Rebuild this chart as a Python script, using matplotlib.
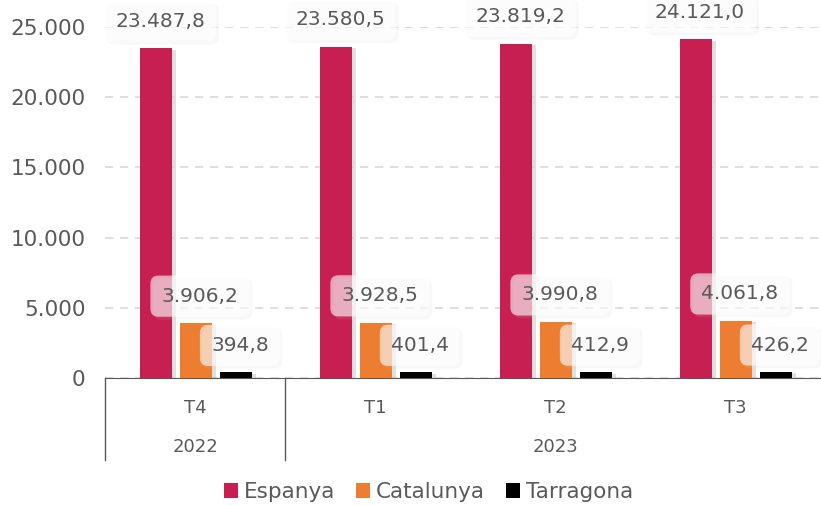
import matplotlib.pyplot as plt
import matplotlib.patheffects as pe
from matplotlib.patches import Patch
import numpy as np

# dades
trimestres = ['T4', 'T1', 'T2', 'T3']
anys = ['2022', '2023']
espanya = [23487.8, 23580.5, 23819.2, 24121.0]
catalunya = [3906.2, 3928.5, 3990.8, 4061.8]
tarragona = [394.8, 401.4, 412.9, 426.2]
series = ['Espanya', 'Catalunya', 'Tarragona']
colors = ['#C81F52', '#ED7D31', '#000000']

GRIS = '#595959'
plt.rcParams['font.family'] = ['DejaVu Sans']


def fmt(v):
    s = f'{v:,.1f}'
    return s.replace(',', 'X').replace('.', ',').replace('X', '.')


fig = plt.figure(figsize=(8.21, 5.05), dpi=100)
ax = fig.add_axes([105 / 821, 1 - 378 / 505, (821 - 105) / 821, (378 - 27) / 505])

x = np.arange(len(trimestres))
w = 0.178
offs = [-0.217, 0.005, 0.227]
sombra = [pe.SimplePatchShadow(offset=(3, -1), shadow_rgbFace='#999999', alpha=0.3), pe.Normal()]
for vals, off, c, nom in zip([espanya, catalunya, tarragona], offs, colors, series):
    bars = ax.bar(x + off, vals, w, color=c, zorder=3)
    for b in bars:
        b.set_path_effects(sombra)
    for xi, v in zip(x + off, vals):
        t = ax.annotate(fmt(v), (xi, v), xytext=(4, 27), textcoords='offset pixels',
                        ha='center', va='center', fontsize=14.5, color=GRIS, zorder=5,
                        bbox=dict(boxstyle='round,pad=0.55,rounding_size=0.4', fc='white',
                                  ec='none', alpha=0.6))
        t.get_bbox_patch().set_path_effects(
            [pe.SimplePatchShadow(offset=(2, -2), shadow_rgbFace='#cccccc', alpha=0.12), pe.Normal()])

ax.set_ylim(0, 25000)
ax.set_xlim(-0.5, (821 - 105) / 180 - 0.5)
ax.set_yticks(range(0, 25001, 5000))
ax.set_yticklabels(['0', '5.000', '10.000', '15.000', '20.000', '25.000'])
ax.tick_params(axis='y', length=0, labelsize=15.5, labelcolor=GRIS, pad=14)
ax.set_xticks([])
ax.yaxis.grid(True, linestyle=(0, (5, 4)), color='#D9D9D9', linewidth=1.2, zorder=0)
for s in ['top', 'right', 'left']:
    ax.spines[s].set_visible(False)
ax.spines['bottom'].set_color(GRIS)

# eix de categories en dos nivells
tr = ax.get_xaxis_transform()
for xv in [-0.5, 0.5]:
    ax.plot([xv, xv], [0, -0.235], transform=tr, color=GRIS, lw=1, clip_on=False)
for xi, t in zip(x, trimestres):
    ax.text(xi, -0.085, t, transform=tr, ha='center', va='center', fontsize=13, color=GRIS)
ax.text(0, -0.197, anys[0], transform=tr, ha='center', va='center', fontsize=13, color=GRIS)
ax.text(2, -0.197, anys[1], transform=tr, ha='center', va='center', fontsize=13, color=GRIS)

handles = [Patch(facecolor=c, edgecolor='none', label=n) for c, n in zip(colors, series)]
fig.legend(handles=handles, loc='center', bbox_to_anchor=(0.522, 1 - 492 / 505), ncol=3,
           frameon=False, fontsize=15.5, labelcolor=GRIS, handlelength=0.65, handleheight=0.65,
           handletextpad=0.25, columnspacing=1.0)

fig.savefig('out.png', dpi=100)
